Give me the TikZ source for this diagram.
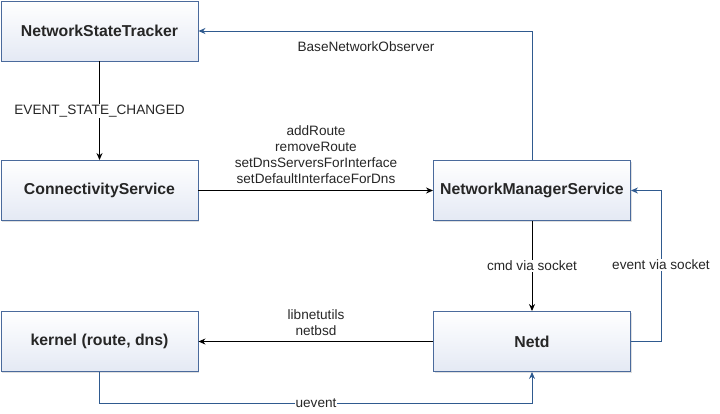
\documentclass[tikz,border=0pt]{standalone}
\usepackage{fontspec}
\setmainfont{Liberation Sans}
\usetikzlibrary{arrows.meta,shadows}
\definecolor{boxborder}{HTML}{4A6A9C}
\definecolor{boxbot}{HTML}{E4E9F4}
\definecolor{bluelink}{HTML}{2F5A8F}
\definecolor{txt}{HTML}{262626}
\tikzset{
  box/.style={draw=boxborder, line width=0.9pt, top color=white, bottom color=boxbot,
    minimum width=197pt, minimum height=60pt, inner sep=0pt,
    font=\fontsize{15.8}{18}\selectfont\bfseries, text=txt,
    drop shadow={shadow xshift=1.2pt, shadow yshift=-1.2pt, opacity=0.25, fill=gray}},
  blk/.style={draw=black, line width=1pt, -{Stealth[length=7pt,width=6pt]}},
  blu/.style={draw=bluelink, line width=1pt, -{Stealth[length=7pt,width=6pt]}},
  lbl/.style={font=\fontsize{13.6}{16}\selectfont, text=txt, align=center, inner sep=1pt},
}
\begin{document}
\begin{tikzpicture}[x=1pt,y=-1pt]
\useasboundingbox (0,0) rectangle (720,413);
\node[box] (nst) at (99.5,31) {NetworkStateTracker};
\node[box] (cs) at (99.5,190.5) {ConnectivityService};
\node[box] (nms) at (532,190.5) {NetworkManagerService};
\node[box] (ker) at (99.5,341.5) {kernel (route, dns)};
\node[box] (netd) at (532,341.5) {Netd};

\coordinate (c1) at (532,31);
\coordinate (c2) at (661,341.5);
\coordinate (c3) at (661,190.5);
\coordinate (c4) at (99.5,403);
\coordinate (c5) at (532,403);

\draw[blk] (nst) -- (cs) node[pos=0.5, lbl, fill=white] {EVENT\_STATE\_CHANGED};
\draw[blk] (cs) -- (nms);
\node[lbl, anchor=south] (ops) at (316,185) {addRoute\\removeRoute\\setDnsServersForInterface\\setDefaultInterfaceForDns};
\draw[blu] (nms.north) -- (c1) -- (nst.east);
\node[lbl] (bno) at (366,47) {BaseNetworkObserver};
\draw[blk] (nms) -- (netd) node[pos=0.5, lbl, fill=white] {cmd via socket};
\draw[blu] (netd.east) -- (c2) -- (c3) -- (nms.east);
\node[lbl, fill=white] (evs) at (661,265) {event via socket};
\draw[blk] (netd) -- (ker);
\node[lbl, anchor=south] (lib) at (316,337) {libnetutils\\netbsd};
\draw[blu] (ker.south) -- (c4) -- (c5) -- (netd.south);
\node[lbl, fill=white, inner sep=0.5pt] (uev) at (316,403) {uevent};
\end{tikzpicture}
\end{document}
